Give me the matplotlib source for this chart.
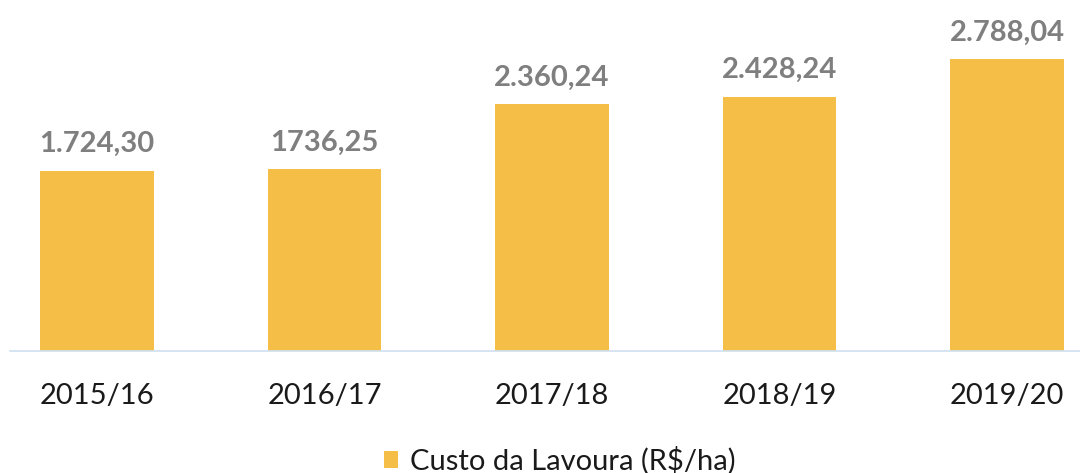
import matplotlib
matplotlib.use("Agg")
import matplotlib.pyplot as plt
from matplotlib.patches import Patch

categories = ["2015/16", "2016/17", "2017/18", "2018/19", "2019/20"]
values = [1724.30, 1736.25, 2360.24, 2428.24, 2788.04]
value_labels = ["1.724,30", "1736,25", "2.360,24", "2.428,24", "2.788,04"]
series_name = "Custo da Lavoura (R$/ha)"

plt.rcParams['font.family'] = ['Lato', 'DejaVu Sans']

W, H, DPI = 1080, 473, 100
fig = plt.figure(figsize=(W / DPI, H / DPI), dpi=DPI)
fig.patch.set_facecolor("white")

base_px = 351
ax = fig.add_axes([10 / W, (H - base_px) / H, 1 - 10 / W, base_px / H])
bar_color = "#F5BF47"
x = list(range(len(categories)))
bars = ax.bar(x, values, width=0.50, color=bar_color, zorder=2)

ax.set_xlim((10 - 97) / 227.5, (1080 - 97) / 227.5)
ax.set_ylim(0, 3357)

for xi, v, lab in zip(x, values, value_labels):
    ax.annotate(lab, (xi, v), xytext=(0, 13.5), textcoords="offset points",
                ha="center", va="baseline", fontsize=21, fontweight="bold",
                color="#7F7F7F")

ax.set_xticks(x)
ax.set_xticklabels(categories, fontsize=21, color="#1A1A1A")
ax.tick_params(axis="x", length=0, pad=23)
ax.set_yticks([])
for s in ["top", "right", "left"]:
    ax.spines[s].set_visible(False)
ax.spines["bottom"].set_color("#CFE0F1")
ax.spines["bottom"].set_linewidth(1.2)

handle = Patch(facecolor=bar_color, edgecolor="none")
fig.legend([handle], [series_name], loc="lower center",
           bbox_to_anchor=(0.518, -0.06), frameon=False, fontsize=21,
           handlelength=0.5, handleheight=0.5, handletextpad=0.4,
           labelcolor="#1A1A1A")

fig.savefig("out.png", dpi=DPI, facecolor="white")
